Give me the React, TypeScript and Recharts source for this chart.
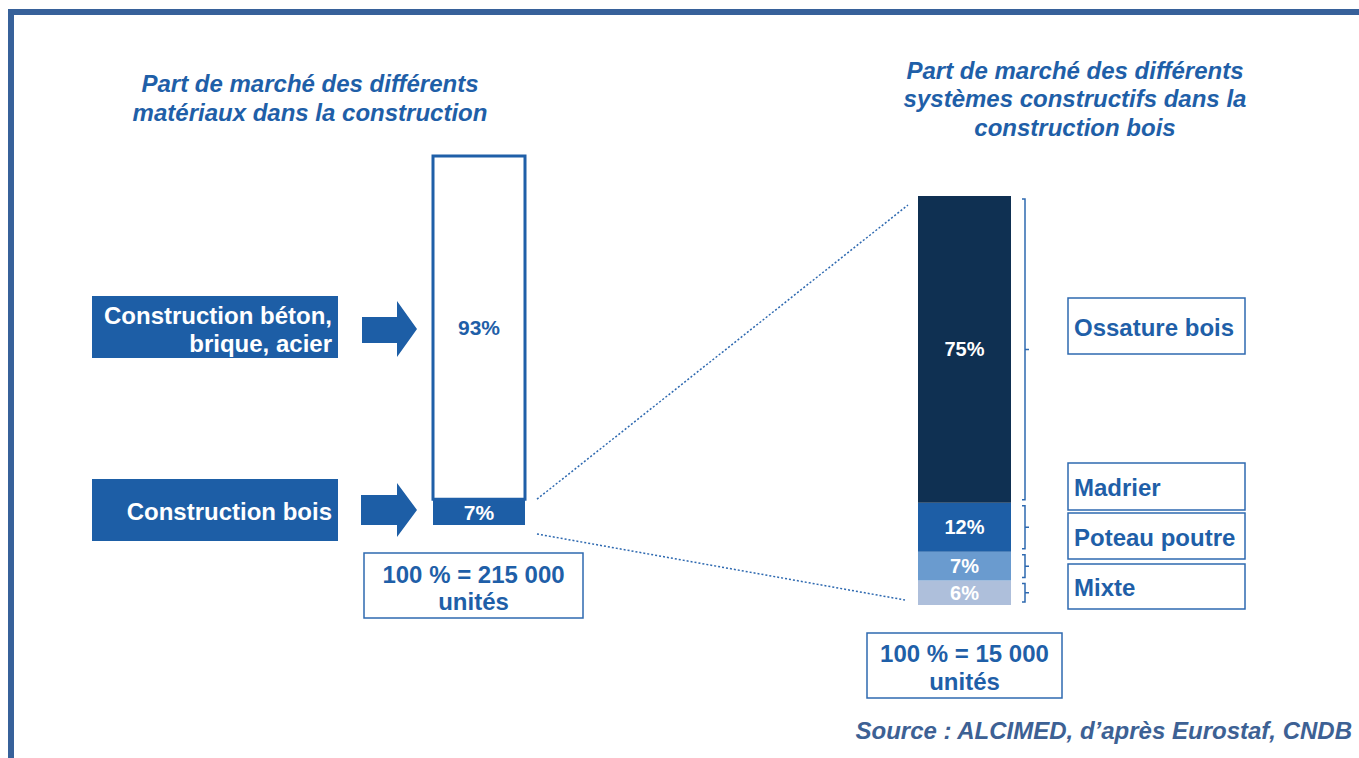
import { BarChart, Bar, XAxis, YAxis, LabelList } from "recharts";

// left bar: share of materials in construction (bottom -> top)
const materialKeys = ["bois", "autres"];
const materialShares = [7, 93];
const materialColors = ["#1D5EA6", "#FFFFFF"];
const materialLabels = [["Construction bois"], ["Construction béton,", "brique, acier"]];

// right bar: share of building systems in wood construction (bottom -> top)
const systemKeys = ["mixte", "poteau", "madrier", "ossature"];
const systemNames = ["Mixte", "Poteau poutre", "Madrier", "Ossature bois"];
const systemShares = [6, 7, 12, 75];
const systemColors = ["#AEBFDB", "#6A9BCF", "#1D5EA6", "#0F3052"];

const leftTitle = ["Part de marché des différents", "matériaux dans la construction"];
const rightTitle = ["Part de marché des différents", "systèmes constructifs dans la", "construction bois"];
const leftTotal = ["100 % = 215 000", "unités"];
const rightTotal = ["100 % = 15 000", "unités"];
const source = "Source : ALCIMED, d’après Eurostaf, CNDB";

const BLUE = "#1F5FA8";
const LINE = "#2E69B0";
const FRAME = "#37619A";
const FONT = "'Liberation Sans', Arial, sans-serif";

const LEFT = { x: 433, top: 156, w: 92, h: 369 };
const RIGHT = { x: 918, top: 196, w: 93, h: 409 };
const M = { top: 10, right: 20, bottom: 10, left: 20 };

const leftRow: Record<string, string | number> = { name: "matériaux" };
materialKeys.forEach((k, i) => (leftRow[k] = materialShares[i]));
const rightRow: Record<string, string | number> = { name: "systèmes" };
systemKeys.forEach((k, i) => (rightRow[k] = systemShares[i]));

const pct = (v: any) => `${v}%`;

// bracket drawn to the right of each stacked segment
function Brace(props: any) {
  const { x, y, width, height } = props;
  const x0 = x + width + 11;
  const x1 = x0 + 3;
  const y1 = y + 3;
  const y2 = y + height - 3;
  const ym = (y1 + y2) / 2;
  return (
    <path
      d={`M${x0},${y1} L${x1},${y1} L${x1},${y2} L${x0},${y2} M${x1},${ym} L${x1 + 4},${ym}`}
      fill="none"
      stroke={LINE}
      strokeWidth={1.5}
    />
  );
}

const rightBoxes: Record<string, { top: number; bottom: number }> = {
  "Ossature bois": { top: 298, bottom: 354 },
  Madrier: { top: 463, bottom: 510 },
  "Poteau poutre": { top: 513, bottom: 559 },
  Mixte: { top: 564, bottom: 609 },
};

// left boxes, indexed like materialKeys
const leftBoxes = [
  { top: 479, textY: 511, arrow: "361,495 397,495 397,483 417,510 397,537 397,525 361,525" },
  { top: 296, textY: 315, arrow: "362,317 397,317 397,301 417,329 397,357 397,343 362,343" },
];

function Lines({ lines, x, y, step, anchor, fill, italic, size }: any) {
  return (
    <text
      x={x}
      textAnchor={anchor}
      fill={fill}
      fontSize={size ?? 24}
      fontWeight="bold"
      fontStyle={italic ? "italic" : "normal"}
      fontFamily={FONT}
    >
      {lines.map((l: string, i: number) => (
        <tspan key={i} x={x} y={y + i * step} dominantBaseline="central">
          {l}
        </tspan>
      ))}
    </text>
  );
}

export default function App() {
  const connTopY = LEFT.top + LEFT.h * (1 - materialShares[0] / 100);
  const connX0 = LEFT.x + LEFT.w + 12;

  return (
    <div
      style={{
        position: "absolute", left: 0, top: 0, width: 1359, height: 758,
        background: "#fff", overflow: "hidden", fontFamily: FONT,
      }}
    >
      <svg width={1359} height={758} style={{ position: "absolute", left: 0, top: 0 }}>
        {/* frame */}
        <rect x={8} y={9} width={1351} height={6} fill={FRAME} />
        <rect x={8} y={9} width={6} height={749} fill={FRAME} />

        {/* titles */}
        <Lines lines={leftTitle} x={310} y={83} step={29} anchor="middle" fill={BLUE} italic />
        <Lines lines={rightTitle} x={1075} y={70} step={28.5} anchor="middle" fill={BLUE} italic />

        {/* left category boxes + arrows */}
        {leftBoxes.map((b, i) => (
          <g key={i}>
            <rect x={92} y={b.top} width={246} height={62} fill="#1D5EA6" />
            <Lines lines={materialLabels[i]} x={332} y={b.textY} step={28} anchor="end" fill="#fff" />
            <polygon points={b.arrow} fill="#1D5EA6" />
          </g>
        ))}

        {/* totals */}
        <rect x={364} y={553} width={219} height={65} fill="none" stroke={LINE} strokeWidth={1.5} />
        <Lines lines={leftTotal} x={473.5} y={574} step={27} anchor="middle" fill={BLUE} />
        <rect x={867} y={633} width={195} height={65} fill="none" stroke={LINE} strokeWidth={1.5} />
        <Lines lines={rightTotal} x={964.5} y={653} step={28} anchor="middle" fill={BLUE} />

        {/* zoom connectors */}
        <line x1={connX0} y1={connTopY} x2={RIGHT.x - 10} y2={RIGHT.top + 9}
          stroke={LINE} strokeWidth={1.5} strokeDasharray="2 2" />
        <line x1={connX0} y1={LEFT.top + LEFT.h + 9} x2={RIGHT.x - 13} y2={RIGHT.top + RIGHT.h - 5}
          stroke={LINE} strokeWidth={1.5} strokeDasharray="2 2" />

        {/* system label boxes */}
        {systemNames.map((n) => (
          <g key={n}>
            <rect x={1068} y={rightBoxes[n].top} width={177} height={rightBoxes[n].bottom - rightBoxes[n].top}
              fill="none" stroke={LINE} strokeWidth={1.5} />
            <Lines lines={[n]} x={1074} y={(rightBoxes[n].top + rightBoxes[n].bottom) / 2 + 1} step={0}
              anchor="start" fill={BLUE} />
          </g>
        ))}

        {/* source */}
        <Lines lines={[source]} x={1352} y={730} step={0} anchor="end" fill="#3D6194" italic />
      </svg>

      <div style={{ position: "absolute", left: LEFT.x - M.left, top: LEFT.top - M.top }}>
        <BarChart width={LEFT.w + M.left + M.right} height={LEFT.h + M.top + M.bottom}
          data={[leftRow]} margin={M} barCategoryGap={0}>
          <XAxis dataKey="name" hide />
          <YAxis hide domain={[0, 100]} />
          {materialKeys.map((k, i) => (
            <Bar key={k} dataKey={k} stackId="a" fill={materialColors[i]}
              stroke={i === 1 ? BLUE : "none"} strokeWidth={i === 1 ? 3 : 0} isAnimationActive={false}>
              <LabelList dataKey={k} position="center" formatter={pct}
                fill={i === 1 ? BLUE : "#fff"} fontSize={21} fontWeight="bold" fontFamily={FONT} />
            </Bar>
          ))}
        </BarChart>
      </div>

      <div style={{ position: "absolute", left: RIGHT.x - M.left, top: RIGHT.top - M.top }}>
        <BarChart width={RIGHT.w + M.left + M.right} height={RIGHT.h + M.top + M.bottom}
          data={[rightRow]} margin={M} barCategoryGap={0}>
          <XAxis dataKey="name" hide />
          <YAxis hide domain={[0, 100]} />
          {systemKeys.map((k, i) => (
            <Bar key={k} dataKey={k} stackId="a" fill={systemColors[i]} isAnimationActive={false}>
              <LabelList dataKey={k} position="center" formatter={pct}
                fill="#fff" fontSize={20} fontWeight="bold" fontFamily={FONT} />
              <LabelList dataKey={k} content={Brace} />
            </Bar>
          ))}
        </BarChart>
      </div>
    </div>
  );
}
